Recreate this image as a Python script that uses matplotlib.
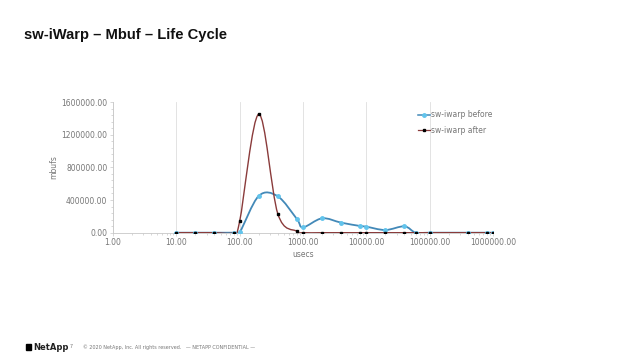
import numpy as np
import matplotlib.pyplot as plt
from matplotlib.path import Path
from matplotlib.patches import PathPatch, Rectangle
from matplotlib.lines import Line2D
from matplotlib.ticker import FixedLocator, FuncFormatter, NullFormatter

# data
usecs = [10, 20, 40, 80, 100, 200, 400, 800, 1000, 2000, 4000, 8000,
         10000, 20000, 40000, 60000, 100000, 400000, 800000, 1000000]
before = [0, 0, 0, 0, 5000, 450000, 445000, 168000, 66000, 176000, 123000,
          82000, 74000, 33000, 78000, 0, 0, 0, 0, 0]
after = [0, 0, 0, 0, 140000, 1450000, 232000, 17000, 0, 0, 0, 0,
         0, 0, 0, 0, 0, 0, 0, 0]

series_names = ['sw-iwarp before', 'sw-iwarp after']
y_ticks = [0, 400000, 800000, 1200000, 1600000]
x_ticks = [1, 10, 100, 1000, 10000, 100000, 1000000]

BLUE_LINE = '#4389b8'
BLUE_MARK = '#62c4ec'
RED_LINE = '#8a3b3b'
GREY = '#767676'


def smooth_path(xs, ys):
    # Excel-style smoothed line: Catmull-Rom tangents turned into cubic Beziers,
    # worked out in log-x space so the curve looks right on the log axis
    lx = np.log10(xs)
    ys = np.asarray(ys, dtype=float)
    n = len(lx)
    verts = [(xs[0], ys[0])]
    codes = [Path.MOVETO]
    for i in range(n - 1):
        i0 = max(i - 1, 0)
        i3 = min(i + 2, n - 1)
        c1x = lx[i] + (lx[i + 1] - lx[i0]) / 6
        c1y = ys[i] + (ys[i + 1] - ys[i0]) / 6
        c2x = lx[i + 1] - (lx[i3] - lx[i]) / 6
        c2y = ys[i + 1] - (ys[i3] - ys[i]) / 6
        verts += [(10 ** c1x, c1y), (10 ** c2x, c2y), (xs[i + 1], ys[i + 1])]
        codes += [Path.CURVE4] * 3
    return Path(verts, codes)


fig = plt.figure(figsize=(6.4, 3.6), dpi=100)
fig.patch.set_facecolor('white')

fig.text(24 / 640, 1 - 35 / 360, 'sw-iWarp \u2013 Mbuf \u2013 Life Cycle',
         fontsize=10.6, fontweight='bold', va='center', ha='left',
         family='Liberation Sans', color='#111111')

ax = fig.add_axes([113 / 640, 1 - 232.7 / 360, 380 / 640, 130.7 / 360])
ax.set_xscale('log')
ax.set_xlim(1, 1000000)
ax.set_ylim(0, 1600000)

ax.add_patch(PathPatch(smooth_path(usecs, before), facecolor='none',
                       edgecolor=BLUE_LINE, lw=1.3, zorder=3))
ax.add_patch(PathPatch(smooth_path(usecs, after), facecolor='none',
                       edgecolor=RED_LINE, lw=1.0, zorder=4))
ax.plot(usecs, before, ls='none', marker='o', ms=2.5, color=BLUE_MARK, zorder=5)
ax.plot(usecs, after, ls='none', marker='s', ms=2.0, color='black', zorder=6)

ax.xaxis.set_major_locator(FixedLocator(x_ticks))
ax.xaxis.set_major_formatter(FuncFormatter(lambda v, p: f'{v:.2f}'))
ax.xaxis.set_minor_formatter(NullFormatter())
ax.yaxis.set_major_locator(FixedLocator(y_ticks))
ax.yaxis.set_minor_locator(FixedLocator(np.arange(0, 1600001, 80000)))
ax.yaxis.set_major_formatter(FuncFormatter(lambda v, p: f'{v:.2f}'))

ax.grid(axis='x', which='major', color='#dedede', lw=0.6)
for s in ['top', 'right']:
    ax.spines[s].set_visible(False)
for s in ['left', 'bottom']:
    ax.spines[s].set_color('#c8c8c8')
    ax.spines[s].set_linewidth(0.6)
ax.tick_params(which='both', colors='#c8c8c8', labelcolor=GREY, labelsize=5.5,
               length=2, width=0.5, pad=2)
ax.tick_params(which='minor', length=1.5)

ax.set_xlabel('usecs', fontsize=5.5, color=GREY, labelpad=2)
ax.set_ylabel('mbufs', fontsize=5.5, color=GREY, labelpad=2)

handles = [Line2D([], [], color=BLUE_LINE, lw=1.1, marker='o', ms=2.5,
                  markerfacecolor=BLUE_MARK, markeredgecolor=BLUE_MARK),
           Line2D([], [], color=RED_LINE, lw=0.9, marker='s', ms=2.0,
                  markerfacecolor='black', markeredgecolor='black')]
ax.legend(handles, series_names, loc='upper left', bbox_to_anchor=(0.795, 0.96),
          frameon=False, fontsize=5.5, labelcolor=GREY, handlelength=1.6,
          handletextpad=0.1, labelspacing=0.9, borderaxespad=0)

# footer
fig.add_artist(Rectangle((26 / 640, 1 - 350 / 360), 5 / 640, 6 / 360,
                         transform=fig.transFigure, color='black'))
fig.text(33 / 640, 1 - 347 / 360, 'NetApp', fontsize=6, fontweight='bold',
         va='center', ha='left', color='#222222')
fig.text(70 / 640, 1 - 347 / 360, '7', fontsize=3.5, va='center', ha='left',
         color=GREY)
fig.text(83 / 640, 1 - 347 / 360,
         '\u00a9 2020 NetApp, Inc. All rights reserved.   \u2014 NETAPP CONFIDENTIAL \u2014',
         fontsize=3.5, va='center', ha='left', color=GREY)

fig.savefig('out.png', dpi=100, facecolor='white')
